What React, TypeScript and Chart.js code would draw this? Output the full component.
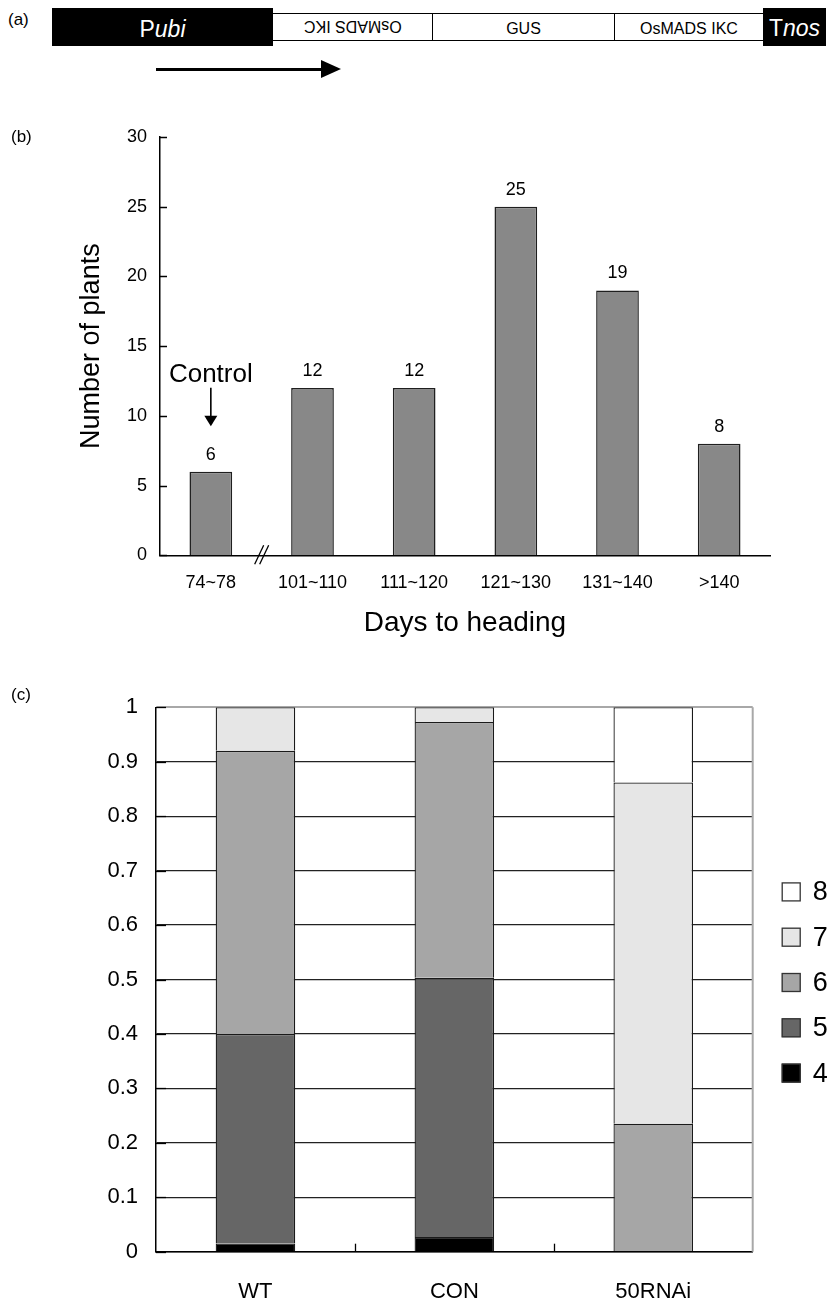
import React, { useEffect, useRef } from 'react';
import { Chart, registerables } from 'chart.js';

Chart.register(...registerables);

const FONT = "'Liberation Sans', Arial, Helvetica, sans-serif";

// ---------- Panel (b) data ----------
const dayCategories = ['74~78', '101~110', '111~120', '121~130', '131~140', '>140'];
const plantCounts = [6, 12, 12, 25, 19, 8];
const plantAxisMax = 30;
const plantAxisStep = 5;

// ---------- Panel (c) data ----------
const lineNames = ['WT', 'CON', '50RNAi'];
const spikeletClasses = ['4', '5', '6', '7', '8'];
const shareClass4 = [0.015, 0.027, 0];
const shareClass5 = [0.385, 0.476, 0];
const shareClass6 = [0.52, 0.47, 0.235];
const shareClass7 = [0.08, 0.027, 0.627];
const shareClass8 = [0, 0, 0.138];
const classShares = [shareClass4, shareClass5, shareClass6, shareClass7, shareClass8];
const classColors = ['#000000', '#666666', '#a6a6a6', '#e6e6e6', '#ffffff'];
const shareAxisStep = 0.1;

const panelBPlugin = {
  id: 'panelBExtras',
  afterDraw(chart: any) {
    const { ctx, chartArea, scales } = chart;
    const yScale = scales.y;
    ctx.save();
    // inward y ticks
    ctx.strokeStyle = '#000';
    ctx.lineWidth = 1.5;
    yScale.ticks.forEach((t: any) => {
      const py = Math.round(yScale.getPixelForValue(t.value)) + 0.5;
      ctx.beginPath();
      ctx.moveTo(chartArea.left, py);
      ctx.lineTo(chartArea.left + 7, py);
      ctx.stroke();
    });
    // value labels
    const meta = chart.getDatasetMeta(0);
    ctx.fillStyle = '#000';
    ctx.font = `18px ${FONT}`;
    ctx.textAlign = 'center';
    ctx.textBaseline = 'middle';
    meta.data.forEach((bar: any, i: number) => {
      ctx.fillText(String(plantCounts[i]), bar.x, bar.y - 17);
    });
    // Control annotation on the first bar
    const first = meta.data[0];
    ctx.font = `26px ${FONT}`;
    ctx.textBaseline = 'alphabetic';
    ctx.fillText('Control', first.x, first.y - 90);
    ctx.lineWidth = 1.6;
    ctx.beginPath();
    ctx.moveTo(first.x, first.y - 84);
    ctx.lineTo(first.x, first.y - 55);
    ctx.stroke();
    ctx.beginPath();
    ctx.moveTo(first.x - 6.5, first.y - 56);
    ctx.lineTo(first.x + 6.5, first.y - 56);
    ctx.lineTo(first.x, first.y - 45.5);
    ctx.closePath();
    ctx.fill();
    // axis break mark between first and second category
    const cx = (meta.data[0].x + meta.data[1].x) / 2;
    const by = chartArea.bottom;
    ctx.lineWidth = 1.3;
    [[-7, 2], [-2, 7]].forEach(([a, b]) => {
      ctx.beginPath();
      ctx.moveTo(cx + a, by + 9);
      ctx.lineTo(cx + b, by - 10);
      ctx.stroke();
    });
    ctx.restore();
  },
};

const panelCPlugin = {
  id: 'panelCExtras',
  afterDraw(chart: any) {
    const { ctx, chartArea, scales } = chart;
    const yScale = scales.y;
    const xScale = scales.x;
    ctx.save();
    // gray right frame
    ctx.strokeStyle = '#a8a8a8';
    ctx.lineWidth = 2;
    ctx.beginPath();
    ctx.moveTo(chartArea.right, chartArea.top);
    ctx.lineTo(chartArea.right, chartArea.bottom);
    ctx.stroke();
    // inward y ticks
    ctx.strokeStyle = '#000';
    ctx.lineWidth = 1.3;
    yScale.ticks.forEach((t: any) => {
      const py = Math.round(yScale.getPixelForValue(t.value)) + 0.5;
      ctx.beginPath();
      ctx.moveTo(chartArea.left, py);
      ctx.lineTo(chartArea.left + 10, py);
      ctx.stroke();
    });
    // category boundary ticks
    for (let i = 1; i < lineNames.length; i++) {
      const px = Math.round((xScale.getPixelForValue(i - 1) + xScale.getPixelForValue(i)) / 2) + 0.5;
      ctx.beginPath();
      ctx.moveTo(px, chartArea.bottom);
      ctx.lineTo(px, chartArea.bottom - 8);
      ctx.stroke();
    }
    // legend (top item = last class)
    const spacing = 45.3;
    const n = spikeletClasses.length;
    const midY = (chartArea.top + chartArea.bottom) / 2 + 3;
    const sq = 19;
    const sx = chartArea.right + 29;
    ctx.font = `27px ${FONT}`;
    ctx.textAlign = 'left';
    ctx.textBaseline = 'middle';
    for (let k = 0; k < n; k++) {
      const idx = n - 1 - k;
      const cy = midY + (k - (n - 1) / 2) * spacing;
      ctx.fillStyle = chart.data.datasets[idx].backgroundColor;
      ctx.fillRect(sx, cy - sq / 2, sq, sq);
      ctx.strokeStyle = '#333';
      ctx.lineWidth = 1.3;
      ctx.strokeRect(sx + 0.5, cy - sq / 2 + 0.5, sq - 1, sq - 1);
      ctx.fillStyle = '#000';
      ctx.fillText(spikeletClasses[idx], sx + sq + 12, cy + 1);
    }
    ctx.restore();
  },
};

function PanelB() {
  const ref = useRef<HTMLCanvasElement>(null);
  useEffect(() => {
    if (!ref.current) return;
    const chart = new Chart(ref.current, {
      type: 'bar',
      data: {
        labels: dayCategories,
        datasets: [
          {
            data: plantCounts,
            backgroundColor: '#888888',
            borderColor: '#1f1f1f',
            borderWidth: 1.5,
            barPercentage: 0.42,
            categoryPercentage: 1,
          },
        ],
      },
      options: {
        animation: false,
        responsive: false,
        maintainAspectRatio: false,
        layout: { padding: { top: 27, right: 66, bottom: 0, left: 0 } },
        plugins: { legend: { display: false }, tooltip: { enabled: false } },
        scales: {
          x: {
            grid: { display: false, drawTicks: false },
            border: { display: true, color: '#000', width: 1.5 },
            ticks: { color: '#000', font: { size: 18, family: FONT }, padding: 17, maxRotation: 0, autoSkip: false },
            title: {
              display: true,
              text: 'Days to heading',
              color: '#000',
              font: { size: 28, family: FONT },
              padding: { top: 0, bottom: 10.2 },
            },
            afterFit: (s: any) => {
              s.height = 94.7;
            },
          },
          y: {
            min: 0,
            max: plantAxisMax,
            grid: { display: false, drawTicks: false },
            border: { display: true, color: '#000', width: 1.5 },
            ticks: { stepSize: plantAxisStep, color: '#000', font: { size: 18, family: FONT }, padding: 13 },
            title: {
              display: true,
              text: 'Number of plants',
              color: '#000',
              font: { size: 27, family: FONT },
              padding: { top: 75.8, bottom: 0 },
            },
            afterFit: (s: any) => {
              s.width = 160;
            },
          },
        },
      } as any,
      plugins: [panelBPlugin],
    });
    return () => chart.destroy();
  }, []);
  return <canvas ref={ref} width={836} height={540} style={{ position: 'absolute', left: 0, top: 110 }} />;
}

function PanelC() {
  const ref = useRef<HTMLCanvasElement>(null);
  useEffect(() => {
    if (!ref.current) return;
    const isTop = (ctx: any) => ctx.tick && Math.abs(ctx.tick.value - 1) < 1e-6;
    const chart = new Chart(ref.current, {
      type: 'bar',
      data: {
        labels: lineNames,
        datasets: spikeletClasses.map((c, i) => ({
          label: c,
          data: classShares[i],
          backgroundColor: classColors[i],
          borderColor: '#1a1a1a',
          borderWidth: 1.3,
          barPercentage: 0.4,
          categoryPercentage: 1,
          stack: 'spikelet',
        })),
      },
      options: {
        animation: false,
        responsive: false,
        maintainAspectRatio: false,
        layout: { padding: { top: 57.3, right: 83.3, bottom: 0, left: 0 } },
        plugins: { legend: { display: false }, tooltip: { enabled: false } },
        scales: {
          x: {
            stacked: true,
            grid: { display: false, drawTicks: false },
            border: { display: true, color: '#000', width: 1.5 },
            ticks: { color: '#000', font: { size: 22, family: FONT }, padding: 27, maxRotation: 0, autoSkip: false },
            afterFit: (s: any) => {
              s.height = 50.3;
            },
          },
          y: {
            stacked: true,
            min: 0,
            max: 1,
            grid: {
              drawTicks: false,
              color: (ctx: any) => (isTop(ctx) ? '#a8a8a8' : '#222222'),
              lineWidth: (ctx: any) => (isTop(ctx) ? 2 : 1.2),
            },
            border: { display: true, color: '#000', width: 1.5 },
            ticks: {
              stepSize: shareAxisStep,
              color: '#000',
              font: { size: 22, family: FONT },
              padding: 18,
              callback: (v: any) => String(Number(Number(v).toFixed(1))),
            },
            afterFit: (s: any) => {
              s.width = 156;
            },
          },
        },
      } as any,
      plugins: [panelCPlugin],
    });
    return () => chart.destroy();
  }, []);
  return <canvas ref={ref} width={836} height={652} style={{ position: 'absolute', left: 0, top: 650 }} />;
}

const whiteBox = (left: number, width: number): React.CSSProperties => ({
  position: 'absolute',
  left,
  top: 13,
  width,
  height: 28,
  boxSizing: 'border-box',
  borderTop: '1.5px solid #000',
  borderBottom: '1.5px solid #000',
  display: 'flex',
  alignItems: 'center',
  justifyContent: 'center',
  fontSize: 16,
  color: '#000',
});

function PanelA() {
  return (
    <>
      <div style={{ position: 'absolute', left: 8, top: 11, fontSize: 17, lineHeight: '18px' }}>(a)</div>
      <div
        style={{
          position: 'absolute',
          left: 52,
          top: 8,
          width: 221,
          height: 38,
          boxSizing: 'border-box',
          paddingTop: 5,
          background: '#000',
          color: '#fff',
          fontSize: 23,
          display: 'flex',
          alignItems: 'center',
          justifyContent: 'center',
        }}
      >
        <span>
          P<i>ubi</i>
        </span>
      </div>
      <div style={{ ...whiteBox(273, 160), borderRight: '1.5px solid #000' }}>
        <span style={{ display: 'inline-block', transform: 'rotate(180deg)', marginTop: -2 }}>OsMADS IKC</span>
      </div>
      <div style={{ ...whiteBox(433, 182), borderRight: '1.5px solid #000', paddingTop: 3 }}>GUS</div>
      <div style={{ ...whiteBox(615, 148), paddingTop: 3 }}>OsMADS IKC</div>
      <div
        style={{
          position: 'absolute',
          left: 763,
          top: 8,
          width: 63,
          height: 38,
          boxSizing: 'border-box',
          paddingTop: 2,
          background: '#000',
          color: '#fff',
          fontSize: 23,
          display: 'flex',
          alignItems: 'center',
          justifyContent: 'center',
        }}
      >
        <span>
          T<i>nos</i>
        </span>
      </div>
      <div style={{ position: 'absolute', left: 156, top: 67.5, width: 168, height: 3.5, background: '#000' }} />
      <div
        style={{
          position: 'absolute',
          left: 321,
          top: 60,
          width: 0,
          height: 0,
          borderLeft: '20px solid #000',
          borderTop: '9.5px solid transparent',
          borderBottom: '9.5px solid transparent',
        }}
      />
    </>
  );
}

export default function App() {
  return (
    <div
      style={{
        position: 'absolute',
        left: 0,
        top: 0,
        width: 836,
        height: 1302,
        background: '#fff',
        fontFamily: FONT,
        color: '#000',
        overflow: 'hidden',
      }}
    >
      <PanelA />
      <PanelB />
      <PanelC />
      <div style={{ position: 'absolute', left: 11, top: 128, fontSize: 17, lineHeight: '18px' }}>(b)</div>
      <div style={{ position: 'absolute', left: 11, top: 686, fontSize: 17, lineHeight: '18px' }}>(c)</div>
    </div>
  );
}
